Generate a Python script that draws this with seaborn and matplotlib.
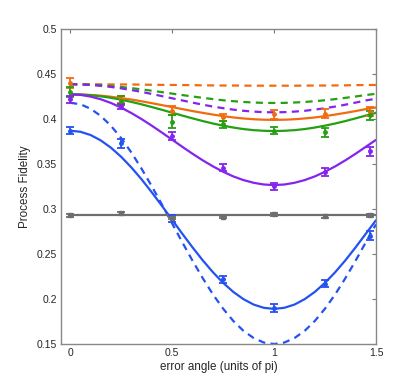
import numpy as np
import pandas as pd
import matplotlib
matplotlib.use("Agg")
import matplotlib.pyplot as plt
import seaborn as sns

# =========================================
# DATA
# =========================================
x_data = [0, 0.25, 0.5, 0.75, 1.0, 1.25, 1.47]

orange_pts = [0.440, 0.422, 0.409, 0.402, 0.405, 0.406, 0.408]
orange_err = [0.006, 0.004, 0.005, 0.004, 0.005, 0.005, 0.005]
green_pts = [0.430, 0.420, 0.397, 0.394, 0.387, 0.385, 0.404]
green_err = [0.006, 0.005, 0.007, 0.004, 0.004, 0.005, 0.005]
purple_pts = [0.422, 0.414, 0.381, 0.346, 0.325, 0.341, 0.364]
purple_err = [0.004, 0.003, 0.004, 0.004, 0.004, 0.004, 0.005]
blue_pts = [0.387, 0.373, 0.289, 0.222, 0.190, 0.217, 0.270]
blue_err = [0.004, 0.005, 0.004, 0.004, 0.004, 0.004, 0.005]
gray_pts = [0.293, 0.295, 0.290, 0.291, 0.294, 0.292, 0.293]
gray_err = [0.0015, 0.0015, 0.0015, 0.0015, 0.0015, 0.0015, 0.0015]

# curves sampled every 0.05
x_curve = [0.0, 0.05, 0.1, 0.15, 0.2, 0.25, 0.3, 0.35, 0.4, 0.45, 0.5,
           0.55, 0.6, 0.65, 0.7, 0.75, 0.8, 0.85, 0.9, 0.95, 1.0,
           1.05, 1.1, 1.15, 1.2, 1.25, 1.3, 1.35, 1.4, 1.45, 1.5]

# solid = fits
orange_fit = [0.4274, 0.4272, 0.4267, 0.4259, 0.4247, 0.4232, 0.4216, 0.4197, 0.4176, 0.4154, 0.4132,
              0.4110, 0.4088, 0.4068, 0.4049, 0.4032, 0.4017, 0.4006, 0.3997, 0.3992, 0.3990,
              0.3992, 0.3997, 0.4006, 0.4017, 0.4032, 0.4049, 0.4068, 0.4088, 0.4110, 0.4128]
green_fit = [0.4274, 0.4272, 0.4264, 0.4252, 0.4235, 0.4214, 0.4190, 0.4163, 0.4133, 0.4102, 0.4070,
             0.4038, 0.4007, 0.3977, 0.3950, 0.3926, 0.3905, 0.3888, 0.3876, 0.3869, 0.3866,
             0.3869, 0.3876, 0.3888, 0.3905, 0.3926, 0.3950, 0.3977, 0.4007, 0.4038, 0.4068]
purple_fit = [0.4274, 0.4268, 0.4249, 0.4219, 0.4178, 0.4126, 0.4066, 0.3999, 0.3926, 0.3849, 0.3770,
              0.3691, 0.3614, 0.3541, 0.3474, 0.3414, 0.3362, 0.3321, 0.3291, 0.3272, 0.3266,
              0.3272, 0.3291, 0.3321, 0.3362, 0.3414, 0.3474, 0.3541, 0.3614, 0.3691, 0.3768]
blue_fit = [0.3870, 0.3858, 0.3822, 0.3762, 0.3681, 0.3580, 0.3462, 0.3330, 0.3186, 0.3035, 0.2880,
            0.2725, 0.2574, 0.2430, 0.2298, 0.2180, 0.2079, 0.1998, 0.1938, 0.1902, 0.1890,
            0.1902, 0.1938, 0.1998, 0.2079, 0.2180, 0.2298, 0.2430, 0.2574, 0.2725, 0.2875]

# dashed = ideal
orange_ideal = [0.4386, 0.4386, 0.4386, 0.4385, 0.4384, 0.4384, 0.4383, 0.4382, 0.4380, 0.4379, 0.4378,
                0.4377, 0.4376, 0.4374, 0.4373, 0.4372, 0.4372, 0.4371, 0.4370, 0.4370, 0.4370,
                0.4370, 0.4370, 0.4371, 0.4372, 0.4372, 0.4373, 0.4374, 0.4376, 0.4377, 0.4378]
green_ideal = [0.4386, 0.4385, 0.4381, 0.4375, 0.4366, 0.4356, 0.4343, 0.4329, 0.4314, 0.4298, 0.4282,
               0.4266, 0.4250, 0.4235, 0.4221, 0.4208, 0.4198, 0.4189, 0.4183, 0.4179, 0.4178,
               0.4179, 0.4183, 0.4189, 0.4198, 0.4208, 0.4221, 0.4235, 0.4250, 0.4266, 0.4280]
purple_ideal = [0.4386, 0.4384, 0.4378, 0.4369, 0.4356, 0.4340, 0.4322, 0.4301, 0.4278, 0.4254, 0.4230,
                0.4206, 0.4182, 0.4159, 0.4138, 0.4120, 0.4104, 0.4091, 0.4082, 0.4076, 0.4074,
                0.4076, 0.4082, 0.4091, 0.4104, 0.4120, 0.4138, 0.4159, 0.4182, 0.4206, 0.4225]
blue_ideal = [0.4180, 0.4164, 0.4114, 0.4034, 0.3924, 0.3788, 0.3628, 0.3448, 0.3254, 0.3050, 0.2840,
              0.2630, 0.2426, 0.2232, 0.2052, 0.1893, 0.1756, 0.1646, 0.1566, 0.1516, 0.1500,
              0.1516, 0.1566, 0.1646, 0.1756, 0.1893, 0.2052, 0.2232, 0.2426, 0.2630, 0.2830]

gray_line_x = [0.0, 1.5]
gray_line_y = [0.2935, 0.2935]

# =========================================
# STYLE
# =========================================
sns.set_style("white")
plt.rcParams['font.family'] = ['Liberation Sans', 'DejaVu Sans']

c_orange = "#f26b0f"
c_green = "#25a012"
c_purple = "#8424ee"
c_blue = "#2452f2"
c_gray = "#6e6e6e"

fig = plt.figure(figsize=(4.0, 3.88), dpi=100)
ax = fig.add_axes([0.1525, 0.1134, 0.7875, 0.8119])

# =========================================
# CURVES
# =========================================
curves = [
    (orange_ideal, c_orange, (3.2, 2.4)),
    (green_ideal, c_green, (3.2, 2.4)),
    (purple_ideal, c_purple, (3.2, 2.4)),
    (blue_ideal, c_blue, (3.2, 2.4)),
    (orange_fit, c_orange, None),
    (green_fit, c_green, None),
    (purple_fit, c_purple, None),
    (blue_fit, c_blue, None),
]
for ys, col, dash in curves:
    sns.lineplot(x=x_curve, y=ys, color=col, lw=1.6, ax=ax)
    if dash is not None:
        ax.lines[-1].set_dashes(dash)

sns.lineplot(x=gray_line_x, y=gray_line_y, color=c_gray, lw=1.6, ax=ax)

# =========================================
# DATA POINTS
# =========================================
points = [
    (orange_pts, orange_err, c_orange, "o"),
    (green_pts, green_err, c_green, "o"),
    (purple_pts, purple_err, c_purple, "o"),
    (blue_pts, blue_err, c_blue, "o"),
    (gray_pts, gray_err, c_gray, "s"),
]
for ys, err, col, mk in points:
    ax.errorbar(x_data, ys, yerr=err, fmt=mk, color=col, ms=2.5,
                capsize=3, capthick=1.3, elinewidth=1.3)

# =========================================
# AXES
# =========================================
ax.set_xlim(-0.045, 1.5)
ax.set_ylim(0.15, 0.5)
ax.set_xticks([0, 0.5, 1, 1.5])
ax.set_xticklabels(["0", "0.5", "1", "1.5"])
ax.set_yticks([0.15, 0.2, 0.25, 0.3, 0.35, 0.4, 0.45, 0.5])
ax.set_yticklabels(["0.15", "0.2", "0.25", "0.3", "0.35", "0.4", "0.45", "0.5"])
ax.tick_params(direction="in", length=3, width=0.8, color="#777777",
               labelsize=7.5, top=True, right=True, pad=3)
for sp in ax.spines.values():
    sp.set_color("#888888")
    sp.set_linewidth(1.0)

ax.set_xlabel("error angle (units of pi)", fontsize=8.4, labelpad=2)
ax.set_ylabel("Process Fidelity", fontsize=8.4, labelpad=4)

fig.savefig("out.png", dpi=100)
